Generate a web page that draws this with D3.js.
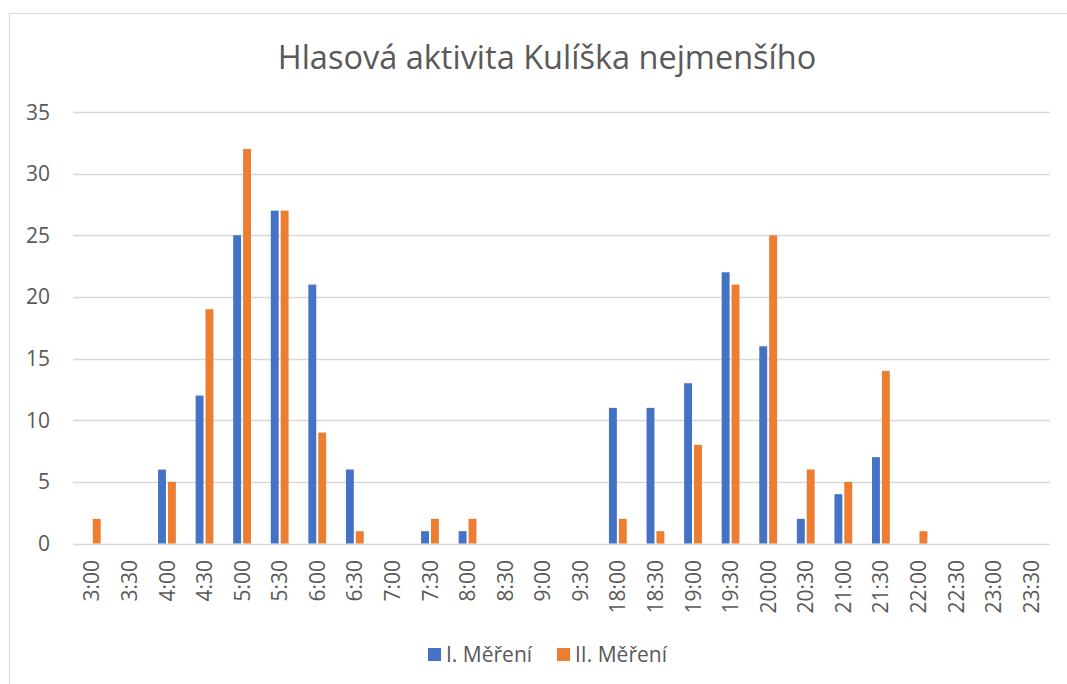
<!DOCTYPE html>
<html>
<head>
<meta charset="utf-8">
<script src="https://cdn.jsdelivr.net/npm/d3@7"></script>
<style>
  body { margin: 0; background: #fff; }
  text { font-family: 'Open Sans', sans-serif; fill: #595959; }
</style>
</head>
<body>
<svg width="1067" height="684"></svg>
<script>
// categories and values
const times = ['3:00', '3:30', '4:00', '4:30', '5:00', '5:30', '6:00', '6:30', '7:00', '7:30',
  '8:00', '8:30', '9:00', '9:30', '18:00', '18:30', '19:00', '19:30', '20:00', '20:30',
  '21:00', '21:30', '22:00', '22:30', '23:00', '23:30']
const mereni1 = [0, 0, 6, 12, 25, 27, 21, 6, 0, 1, 1, 0, 0, 0, 11, 11, 13, 22, 16, 2, 4, 7, 0, 0, 0, 0]
const mereni2 = [2, 0, 5, 19, 32, 27, 9, 1, 0, 2, 2, 0, 0, 0, 2, 1, 8, 21, 25, 6, 5, 14, 1, 0, 0, 0]
const seriesNames = ['I. Měření', 'II. Měření']
const colors = ['#4472c4', '#ed7d31']
const yTicks = [0, 5, 10, 15, 20, 25, 30, 35]

const svg = d3.select('svg')

// chart frame
svg.append('rect')
  .attr('x', 9.5).attr('y', 13.5)
  .attr('width', 1070).attr('height', 700)
  .attr('fill', 'none').attr('stroke', '#d9d9d9')

const plotLeft = 73, plotRight = 1050, plotTop = 112, plotBottom = 543.5

const x = d3.scaleBand().domain(times).range([plotLeft, plotRight])
// two bars per category, gap around them
const x1 = d3.scaleBand().domain([0, 1]).range([0, x.bandwidth()]).paddingOuter(1.0).paddingInner(0.2)
const y = d3.scaleLinear().domain([0, 35]).range([plotBottom, plotTop])

svg.append('text')
  .attr('x', 547).attr('y', 69)
  .attr('text-anchor', 'middle')
  .style('font-size', '32.5px')
  .text('Hlasová aktivita Kulíška nejmenšího')

// gridlines
svg.append('g').selectAll('line')
  .data(yTicks)
  .enter().append('line')
    .attr('x1', plotLeft).attr('x2', plotRight)
    .attr('y1', d => Math.round(y(d)) + 0.5).attr('y2', d => Math.round(y(d)) + 0.5)
    .attr('stroke', '#d9d9d9').attr('stroke-width', 1.3)

svg.append('g').selectAll('text')
  .data(yTicks)
  .enter().append('text')
    .attr('x', 50).attr('y', d => y(d))
    .attr('dy', '0.36em')
    .attr('text-anchor', 'end')
    .style('font-size', '21px')
    .text(d => d)

// bars
const data = times.map((t, i) => ({ t: t, v: [mereni1[i], mereni2[i]] }))
const groups = svg.append('g').selectAll('g')
  .data(data)
  .enter().append('g')
    .attr('transform', d => 'translate(' + x(d.t) + ',0)')

groups.selectAll('rect')
  .data(d => d.v.map((v, s) => ({ s: s, v: v })).filter(d => d.v > 0))
  .enter().append('rect')
    .attr('x', d => x1(d.s))
    .attr('width', x1.bandwidth())
    .attr('y', d => y(d.v))
    .attr('height', d => y(0) - y(d.v))
    .attr('fill', d => colors[d.s])

// x labels, rotated
svg.append('g').selectAll('text')
  .data(times)
  .enter().append('text')
    .attr('transform', d => 'translate(' + (x(d) + x.bandwidth() / 2) + ',' + 560 + ') rotate(-90)')
    .attr('dy', '0.36em')
    .attr('text-anchor', 'end')
    .style('font-size', '21px')
    .text(d => d)

// legend
const legend = svg.append('g')
const lx = [428, 557]
seriesNames.forEach((name, i) => {
  legend.append('rect')
    .attr('x', lx[i]).attr('y', 648)
    .attr('width', 13).attr('height', 13)
    .attr('fill', colors[i])
  legend.append('text')
    .attr('x', lx[i] + 18).attr('y', 662)
    .style('font-size', '21px')
    .text(name)
})
</script>
</body>
</html>
